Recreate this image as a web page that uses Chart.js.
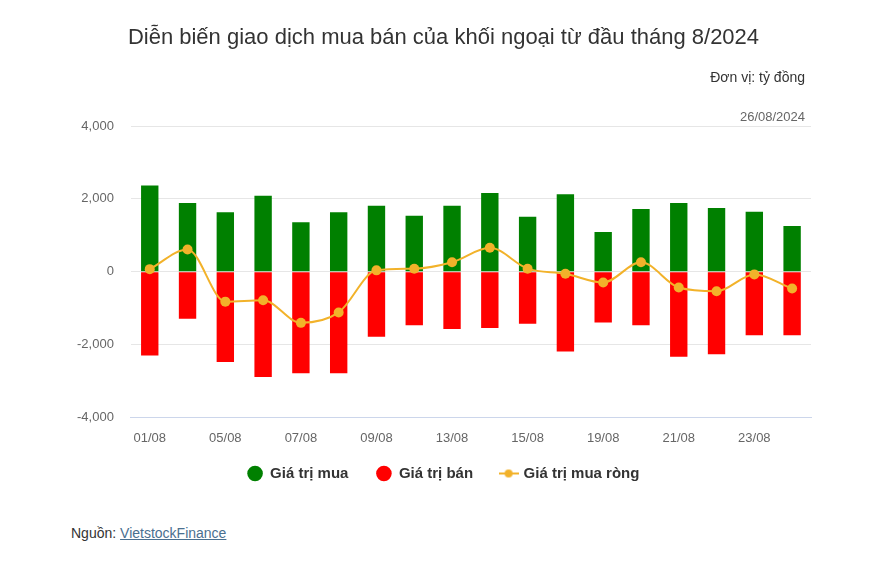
<!DOCTYPE html>
<html>
<head>
<meta charset="utf-8">
<script src="https://cdn.jsdelivr.net/npm/chart.js@4.4.1/dist/chart.umd.min.js"></script>
<style>
  body { margin: 0; background: #fff; font-family: "Liberation Sans", Arial, sans-serif; }
  #wrap { position: relative; width: 887px; height: 562px; overflow: hidden; }
  #title { position: absolute; left: 0; width: 887px; top: 24px; text-align: center; font-size: 22px; color: #333; }
  #unit { position: absolute; right: 82px; top: 69px; font-size: 14px; color: #333; }
  #date { position: absolute; right: 82px; top: 109px; font-size: 13px; color: #666; }
  #src { position: absolute; left: 71px; top: 525px; font-size: 14px; color: #333; }
  #src a { color: #4a7090; text-decoration: underline; }
  #box { position: absolute; left: 0; top: 0; width: 887px; height: 512px; }
</style>
</head>
<body>
<div id="wrap">
  <div id="box"><canvas id="chart"></canvas></div>
  <div id="title">Diễn biến giao dịch mua bán của khối ngoại từ đầu tháng 8/2024</div>
  <div id="unit">Đơn vị: tỷ đồng</div>
  <div id="date">26/08/2024</div>
  <div id="src">Nguồn: <a href="#">VietstockFinance</a></div>
</div>
<script>
// ngày giao dịch tháng 8/2024
const days = ["01/08", "02/08", "05/08", "06/08", "07/08", "08/08", "09/08", "12/08", "13/08",
              "14/08", "15/08", "16/08", "19/08", "20/08", "21/08", "22/08", "23/08", "26/08"];
// giá trị mua (tỷ đồng)
const buyValues = [2365, 1885, 1635, 2088, 1358, 1635, 1811, 1533, 1811,
                   2162, 1506, 2125, 1090, 1718, 1885, 1746, 1644, 1256];
// giá trị bán (âm)
const sellValues = [-2300, -1293, -2476, -2891, -2790, -2790, -1783, -1469, -1570,
                    -1543, -1432, -2189, -1395, -1469, -2337, -2263, -1746, -1746];
// giá trị mua ròng
const netValues = [70, 610, -822, -785, -1404, -1118, 37, 83, 259,
                   656, 83, -55, -296, 259, -434, -536, -74, -462];
const yTicks = [-4000, -2000, 0, 2000, 4000];

const GREEN = "#008000";
const RED = "#ff0000";
const YELLOW = "#f2b22a";

// ký hiệu legend cho đường: gạch ngang + chấm
function lineSymbol() {
    const c = document.createElement("canvas");
    c.width = 20; c.height = 10;
    const g = c.getContext("2d");
    g.strokeStyle = YELLOW; g.lineWidth = 2;
    g.beginPath(); g.moveTo(0, 5); g.lineTo(20, 5); g.stroke();
    g.fillStyle = YELLOW;
    g.beginPath(); g.arc(10, 5, 4, 0, Math.PI * 2); g.fill();
    return c;
}
const lineIcon = lineSymbol();

// kéo legend lên sát trục x hơn, và canh giữa trang
const legendShift = {
    id: "legendShift",
    afterLayout(chart) {
        const lg = chart.legend;
        if (lg) {
            lg.top -= 21; lg.bottom -= 21;
            lg.left += 8; lg.right += 8;
        }
    }
};

const fontFam = '"Liberation Sans", Arial, sans-serif';

new Chart(document.getElementById("chart"), {
    type: "bar",
    data: {
        labels: days,
        datasets: [
            {label: "Giá trị mua", data: buyValues, backgroundColor: GREEN, order: 2,
             categoryPercentage: 1, barPercentage: 0.46},
            {label: "Giá trị bán", data: sellValues, backgroundColor: RED, order: 2,
             categoryPercentage: 1, barPercentage: 0.46},
            {label: "Giá trị mua ròng", data: netValues, type: "line", order: 0,
             borderColor: YELLOW, backgroundColor: YELLOW, pointBackgroundColor: YELLOW,
             pointBorderWidth: 0, pointRadius: 5, borderWidth: 2,
             cubicInterpolationMode: "monotone", fill: false}
        ]
    },
    plugins: [legendShift],
    options: {
        responsive: true,
        maintainAspectRatio: false,
        animation: false,
        layout: {padding: {top: 126, left: 60, right: 76, bottom: 0}},
        plugins: {
            tooltip: {enabled: false},
            legend: {
                position: "bottom",
                labels: {
                    usePointStyle: true,
                    boxWidth: 18,
                    boxHeight: 11,
                    padding: 28,
                    color: "#333",
                    font: {family: fontFam, size: 15, weight: "bold"},
                    generateLabels(chart) {
                        return chart.data.datasets.map((ds, i) => ({
                            text: ds.label,
                            fillStyle: ds.backgroundColor,
                            strokeStyle: ds.backgroundColor,
                            lineWidth: 0,
                            pointStyle: ds.type === "line" ? lineIcon : "circle",
                            fontColor: "#333",
                            hidden: false,
                            datasetIndex: i
                        }));
                    }
                }
            }
        },
        scales: {
            x: {
                stacked: true,
                grid: {display: false, drawTicks: false},
                border: {display: true, color: "#ccd6eb", width: 1},
                ticks: {
                    autoSkip: false, maxRotation: 0, padding: 13,
                    color: "#666", font: {family: fontFam, size: 13},
                    callback: function (v, i) { return i % 2 === 0 ? days[i] : ""; }
                }
            },
            y: {
                min: -4000, max: 4000,
                afterBuildTicks: axis => { axis.ticks = yTicks.map(v => ({value: v})); },
                grid: {color: "#e6e6e6", drawTicks: false},
                border: {display: false},
                ticks: {
                    padding: 17, color: "#666", font: {family: fontFam, size: 13},
                    callback: v => v.toLocaleString("en-US")
                }
            }
        }
    }
});
</script>
</body>
</html>
